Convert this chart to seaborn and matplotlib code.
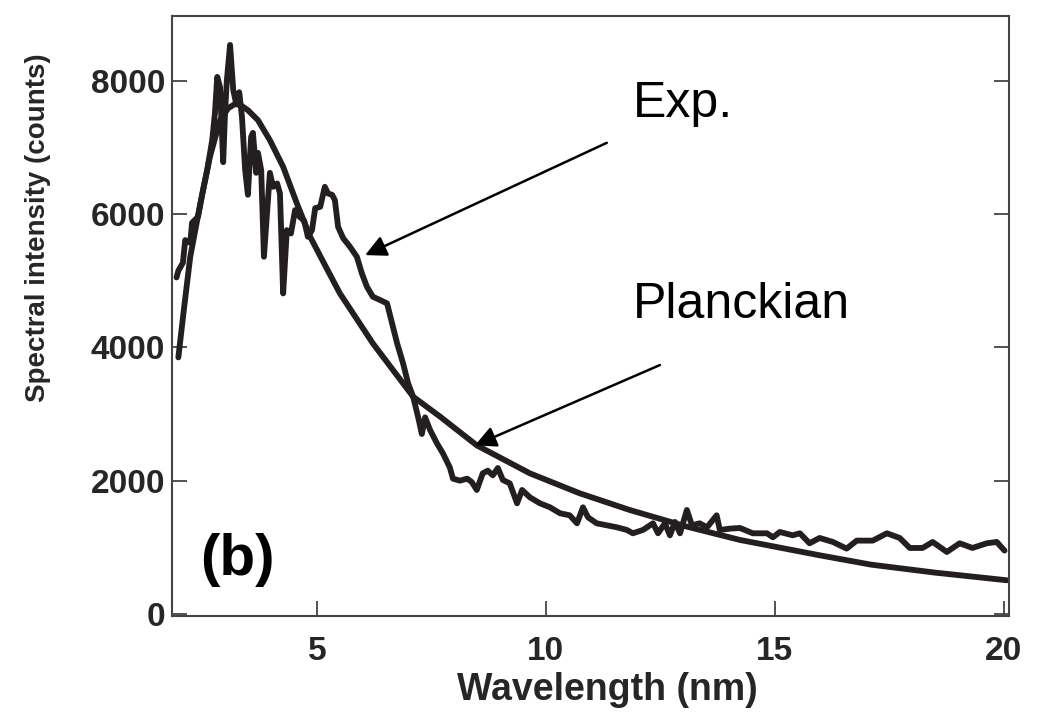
import matplotlib
matplotlib.use("Agg")
import matplotlib.pyplot as plt
import seaborn as sns
import pandas as pd

# ---------------- data ----------------
exp_wl = [1.93, 1.97, 2.07, 2.12, 2.23, 2.27, 2.40, 2.51, 2.60, 2.71, 2.77, 2.82, 2.88, 2.95,
          2.99, 3.03, 3.10, 3.17, 3.23, 3.30, 3.36, 3.43, 3.49, 3.56, 3.60, 3.67, 3.71, 3.78,
          3.84, 3.97, 4.04, 4.13, 4.19, 4.26, 4.34, 4.43, 4.52, 4.62, 4.72, 4.80, 4.89, 4.96,
          5.07, 5.17, 5.24, 5.33, 5.39, 5.46, 5.57, 5.72, 5.87, 5.98, 6.09, 6.22, 6.38, 6.53,
          6.64, 6.75, 6.88, 6.99, 7.10, 7.21, 7.29, 7.36, 7.47, 7.62, 7.75, 7.90, 7.97, 8.12,
          8.28, 8.38, 8.49, 8.62, 8.73, 8.84, 8.95, 9.06, 9.21, 9.37, 9.48, 9.65, 9.87, 10.09,
          10.31, 10.52, 10.68, 10.81, 10.92, 11.11, 11.33, 11.55, 11.77, 11.90, 12.12, 12.34,
          12.45, 12.60, 12.71, 12.82, 12.93, 13.08, 13.19, 13.36, 13.52, 13.73, 13.80, 14.02,
          14.24, 14.52, 14.83, 14.96, 15.11, 15.39, 15.55, 15.76, 15.98, 16.27, 16.57, 16.79,
          17.14, 17.45, 17.73, 17.95, 18.23, 18.45, 18.76, 19.04, 19.32, 19.63, 19.85, 20.02]
exp_int = [5050, 5150, 5270, 5610, 5570, 5870, 5960, 6360, 6660, 7110, 7520, 8060, 7910, 6780,
           7520, 8010, 8540, 7860, 7670, 7830, 7460, 6660, 6290, 7160, 7220, 6620, 6920, 6660,
           5360, 6620, 6410, 6460, 6310, 4810, 5760, 5710, 6060, 5960, 5900, 5660, 5760, 6090,
           6110, 6410, 6310, 6290, 6210, 5810, 5640, 5510, 5360, 5110, 4910, 4760, 4710, 4660,
           4360, 4060, 3760, 3460, 3260, 2950, 2700, 2950, 2760, 2560, 2410, 2200, 2030, 2000,
           2030, 1980, 1860, 2110, 2150, 2080, 2190, 2010, 1960, 1660, 1860, 1750, 1660, 1600,
           1510, 1480, 1360, 1600, 1450, 1360, 1330, 1300, 1260, 1210, 1260, 1360,
           1210, 1360, 1180, 1380, 1210, 1560, 1330, 1360, 1300, 1480, 1260, 1280,
           1290, 1210, 1210, 1150, 1230, 1180, 1210, 1060, 1140, 1080, 980, 1100,
           1100, 1210, 1140, 990, 990, 1080, 930, 1060, 990, 1060, 1080, 950]

planck_wl = [1.97, 2.10, 2.23, 2.45, 2.66, 2.88, 3.06, 3.20, 3.32, 3.49, 3.71, 3.97, 4.26,
             4.56, 4.85, 5.20, 5.50, 6.22, 7.10, 7.69, 8.49, 9.65, 10.74, 11.83, 13.08, 14.24,
             15.98, 17.10, 18.50, 20.07]
planck_int = [3850, 4620, 5360, 6160, 6860, 7410, 7590, 7650, 7640, 7560, 7410, 7110, 6710,
              6160, 5660, 5200, 4810, 4060, 3260, 2960, 2530, 2110, 1810, 1560, 1310, 1110,
              880, 740, 620, 505]

x_ticks = [5, 10, 15, 20]
y_ticks = [0, 2000, 4000, 6000, 8000]

# ---------------- figure ----------------
sns.set_theme(style="ticks")
plt.rcParams["font.family"] = ["Liberation Sans", "DejaVu Sans"]

fig = plt.figure(figsize=(10.42, 7.2), dpi=100)
ax = fig.add_axes([0.165, 0.144, 0.803, 0.834])

line_color = "#231f20"
df_exp = pd.DataFrame({"wl": exp_wl, "I": exp_int})
df_pl = pd.DataFrame({"wl": planck_wl, "I": planck_int})
sns.lineplot(data=df_exp, x="wl", y="I", ax=ax, color=line_color, lw=4.2,
             sort=False, estimator=None)
sns.lineplot(data=df_pl, x="wl", y="I", ax=ax, color=line_color, lw=4.2,
             sort=False, estimator=None)

ax.set_xlim(1.83, 20.11)
ax.set_ylim(-36, 8976)
ax.set_xticks(x_ticks)
ax.set_yticks(y_ticks)
ax.set_xticklabels([str(t) for t in x_ticks], fontsize=24, fontweight="bold")
ax.set_yticklabels([str(t) for t in y_ticks], fontsize=24, fontweight="bold")
ax.tick_params(axis="both", direction="in", length=11, width=1.3, color="#444444",
               right=True, top=False)
ax.tick_params(axis="x", pad=14)
ax.tick_params(axis="y", pad=5)
for s in ax.spines.values():
    s.set_color("#444444")
    s.set_linewidth(1.5)
    s.set_visible(True)

ax.set_xlabel("Wavelength (nm)", fontsize=27, fontweight="bold")
ax.xaxis.label.set_va("center")
ax.xaxis.set_label_coords(0.52, -0.123)
ax.set_ylabel("Spectral intensity (counts)", fontsize=20, fontweight="bold")
ax.yaxis.label.set_va("center")
ax.yaxis.set_label_coords(-0.16, 0.648)

ax.text(0.078, 0.093, "(b)", transform=ax.transAxes, fontsize=42, fontweight="bold",
        ha="center", va="center", color="black")

ax.text(11.9, 7460, "Exp.", fontsize=36, ha="left", va="baseline", color="black")
ax.text(11.9, 4440, "Planckian", fontsize=36, ha="left", va="baseline", color="black")

arrow_kw = dict(arrowstyle="-|>", color="black", lw=1.8, mutation_scale=32,
                shrinkA=0, shrinkB=0)
ax.annotate("", xy=(6.05, 5385), xytext=(11.33, 7070), arrowprops=arrow_kw)
ax.annotate("", xy=(8.45, 2530), xytext=(12.49, 3735), arrowprops=arrow_kw)

fig.savefig("out.png", dpi=100)
